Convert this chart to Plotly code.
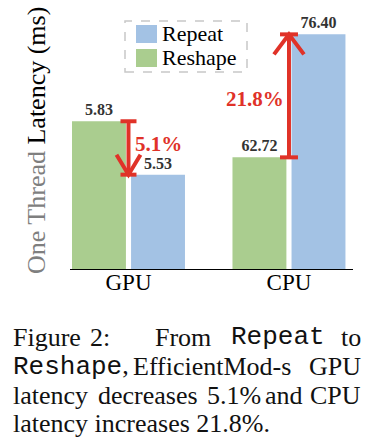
import plotly.graph_objects as go

# ---------------- data ----------------
categories = ["GPU", "CPU"]
series_names = ["Repeat", "Reshape"]
repeat_ms = [5.53, 76.40]
reshape_ms = [5.83, 62.72]
gpu_axis_range = [5.0, 6.5]
cpu_axis_range = [50.3, 80.0]

# ---------------- style ----------------
W, H = 372, 448
ML, MR, MT, MB = 70, 19, 2, 179
PW, PH = W - ML - MR, H - MT - MB
GREEN = "rgb(170,205,143)"
BLUE = "rgb(163,194,228)"
RED = "rgb(224,50,40)"
SERIF = "Liberation Serif"
MONO = "Liberation Mono"


def px(x):
    return (x - ML) / PW


def py(y):
    return (H - MB - y) / PH


fig = go.Figure()
bar_w, gap = 0.336, 0.016
for i, cat in enumerate(categories):
    yax = "y" if i == 0 else "y2"
    fig.add_trace(go.Bar(
        x=[cat], y=[reshape_ms[i]], yaxis=yax, name=series_names[1],
        marker=dict(color=GREEN, line=dict(width=0)),
        width=bar_w, offset=-(bar_w + gap),
        texttemplate="<b>%{y:.2f}</b>", textposition="outside",
        textfont=dict(family=SERIF, size=16, color="#333333"),
        showlegend=False, hoverinfo="x+y+name"))
    fig.add_trace(go.Bar(
        x=[cat], y=[repeat_ms[i]], yaxis=yax, name=series_names[0],
        marker=dict(color=BLUE, line=dict(width=0)),
        width=bar_w, offset=gap,
        texttemplate="<b>%{y:.2f}</b>", textposition="outside",
        textfont=dict(family=SERIF, size=16, color="#333333"),
        showlegend=False, hoverinfo="x+y+name"))

shapes = []
annotations = []
LW = 4
for i, cat in enumerate(categories):
    yref = "y" if i == 0 else "y2"
    # arrow goes from the Reshape value to the Repeat value
    tail, tip = reshape_ms[i], repeat_ms[i]
    shapes.append(dict(type="line", xref="x", yref=yref, x0=cat, x1=cat,
                       y0=tail, y1=tip, line=dict(color=RED, width=LW)))
    half = 8 if i == 0 else 9
    for v in (tail, tip):
        shapes.append(dict(type="line", xref="x", yref=yref, xsizemode="pixel",
                           xanchor=cat, x0=-half, x1=half, y0=v, y1=v,
                           line=dict(color=RED, width=LW)))
    up = 1 if tip > tail else -1
    aw = 12 if i == 0 else 15
    shapes.append(dict(type="path", xref="x", yref=yref, xsizemode="pixel",
                       ysizemode="pixel", xanchor=cat, yanchor=tip,
                       path=f"M{-aw},{-up*20} L0,0 L{aw},{-up*20}",
                       line=dict(color=RED, width=LW)))
    base_val = reshape_ms[i] if i == 0 else min(reshape_ms[i], repeat_ms[i])
    pct = abs(repeat_ms[i] - reshape_ms[i]) / base_val * 100
    annotations.append(dict(
        x=cat, y=(tail + tip) / 2, xref="x", yref=yref, showarrow=False,
        text=f"<b>{pct:.1f}%</b>", font=dict(family=SERIF, size=21, color=RED),
        xanchor="left" if i == 0 else "right", xshift=5 if i == 0 else -3,
        yshift=4 if i == 0 else -3))

# y-axis title (two-tone)
annotations.append(dict(x=px(37), y=py(141), xref="paper", yref="paper",
                        xanchor="center", yanchor="middle", textangle=-90, showarrow=False,
                        text='<span style="color:#7f7f7f">One Thread</span> Latency (ms)',
                        font=dict(family=SERIF, size=26, color="black")))

# custom legend
shapes.append(dict(type="rect", xref="paper", yref="paper",
                   x0=px(125), x1=px(247), y0=py(72), y1=py(21),
                   line=dict(color="#c8c8c8", width=1.5, dash="dash")))
for j, (nm, col) in enumerate(zip(series_names, [BLUE, GREEN])):
    top = 25 + j * 24
    shapes.append(dict(type="rect", xref="paper", yref="paper",
                       x0=px(136), x1=px(157), y0=py(top + 18), y1=py(top),
                       fillcolor=col, line=dict(width=0)))
    annotations.append(dict(x=px(160), y=py(top + 9), xref="paper", yref="paper",
                            xanchor="left", yanchor="middle", showarrow=False,
                            text=nm, font=dict(family=SERIF, size=22, color="black")))

# caption
caption = [
    # (text, x pixel, anchor, line)
    ("Figure", 11, "left", 0), ("2:", 88, "left", 0), ("From", 153, "left", 0),
    (f'<span style="font-family:{MONO}">Repeat</span>', 229, "left", 0), ("to", 363, "right", 0),
    (f'<span style="font-family:{MONO}">Reshape</span>,', 11, "left", 1),
    ("EfficientMod-s", 131, "left", 1), ("GPU", 363, "right", 1),
    ("latency", 11, "left", 2), ("decreases", 96, "left", 2), ("5.1%", 205, "left", 2),
    ("and", 263, "left", 2), ("CPU", 363, "right", 2),
    ("latency increases 21.8%.", 11, "left", 3),
]
line_y = [337, 366, 395, 424]
for txt, x, anc, ln in caption:
    annotations.append(dict(x=px(x), y=py(line_y[ln]), xref="paper", yref="paper",
                            xanchor=anc, yanchor="middle", showarrow=False, text=txt,
                            font=dict(family=SERIF, size=26, color="#111111")))

fig.update_layout(
    width=W, height=H, margin=dict(l=ML, r=MR, t=MT, b=MB, autoexpand=False),
    paper_bgcolor="white", plot_bgcolor="white", barmode="overlay",
    showlegend=False, font=dict(family=SERIF, color="black"),
    xaxis=dict(type="category", categoryorder="array", categoryarray=categories,
               range=[-0.3645, 1.399], showline=True, linecolor="black", linewidth=1,
               ticks="", showgrid=False, zeroline=False, ticklabelstandoff=-8,
               tickfont=dict(family=SERIF, size=23, color="black")),
    yaxis=dict(range=gpu_axis_range, showticklabels=False, showgrid=False,
               zeroline=False, showline=False, ticks="", title=dict(text="")),
    yaxis2=dict(range=cpu_axis_range, overlaying="y", anchor="x", visible=False),
    shapes=shapes, annotations=annotations,
)

fig.write_html("out.html", config={"displayModeBar": False},
               post_script="document.body.style.margin='0';")
